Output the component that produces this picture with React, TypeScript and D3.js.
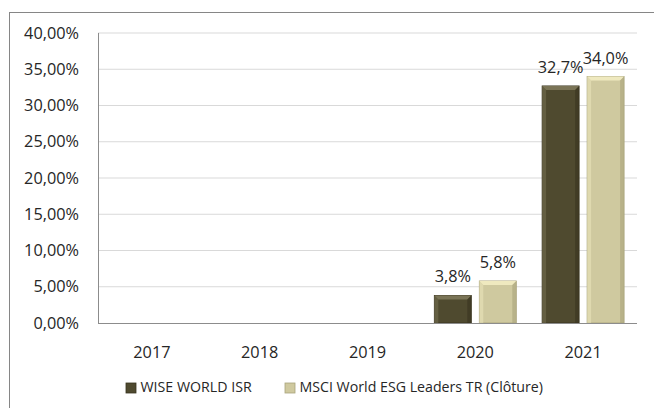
import React from "react";
import * as d3 from "d3";

const years = ["2017", "2018", "2019", "2020", "2021"];
const seriesNames = ["WISE WORLD ISR", "MSCI World ESG Leaders TR (Clôture)"];
const wiseValues: (number | null)[] = [null, null, null, 3.8, 32.7];
const msciValues: (number | null)[] = [null, null, null, 5.8, 34.0];
const yTicks = [0, 5, 10, 15, 20, 25, 30, 35, 40];

const colors = [
  { main: "#4f4a2f", light: "#7a7456", dark: "#38341f" },
  { main: "#cfc99f", light: "#efe9bf", dark: "#a9a47c" },
];

const W = 654;
const H = 408;
const fmtTick = (v: number) => v.toFixed(2).replace(".", ",") + "%";
const fmtLabel = (v: number) => v.toFixed(1).replace(".", ",") + "%";
const font = "'Open Sans', 'Noto Sans', sans-serif";
const fs = 16.3;

export default function App() {
  const x = d3.scaleBand<string>().domain(years).range([98, 637]).paddingInner(0).paddingOuter(0);
  const inner = d3.scaleBand<number>().domain([0, 1]).range([0, x.bandwidth()]).paddingInner(0.178).paddingOuter(0.287);
  const y = d3.scaleLinear().domain([0, 40]).range([323, 33]);
  const series = [wiseValues, msciValues];
  const bw = inner.bandwidth();
  const b = 4;

  return (
    <svg width={W} height={H} style={{ position: "absolute", left: 0, top: 0 }}>
      <rect x={0} y={0} width={W} height={H} fill="#fff" />
      <rect x={9.5} y={12.5} width={W + 10} height={H + 10} fill="none" stroke="#868686" strokeWidth={1} />
      {yTicks.map((t) => (
        <g key={t}>
          {t > 0 && <line x1={98} x2={637} y1={y(t)} y2={y(t)} stroke="#d9d9d9" strokeWidth={1} />}
          <text x={79} y={y(t)} dy="0.35em" textAnchor="end" fontFamily={font} fontSize={fs} fill="#262626">
            {fmtTick(t)}
          </text>
        </g>
      ))}
      {series.map((vals, si) =>
        vals.map((v, i) => {
          if (v == null) return null;
          const x0 = (x(years[i]) as number) + (inner(si) as number);
          const y0 = y(v);
          const y1 = y(0);
          const c = colors[si];
          return (
            <g key={`${si}-${i}`}>
              <rect x={x0} y={y0} width={bw} height={y1 - y0} fill={c.main} stroke={c.dark} strokeWidth={0.8} />
              <polygon points={`${x0},${y0} ${x0 + bw},${y0} ${x0 + bw - b},${y0 + b} ${x0 + b},${y0 + b}`} fill={c.light} />
              <polygon points={`${x0},${y0} ${x0 + b},${y0 + b} ${x0 + b},${y1} ${x0},${y1}`} fill={c.light} opacity={0.5} />
              <polygon points={`${x0 + bw},${y0} ${x0 + bw - b},${y0 + b} ${x0 + bw - b},${y1} ${x0 + bw},${y1}`} fill={c.dark} opacity={0.6} />
              <text x={x0 + bw / 2} y={y0 - 13} textAnchor="middle" fontFamily={font} fontSize={fs} fill="#262626">
                {fmtLabel(v)}
              </text>
            </g>
          );
        })
      )}
      <line x1={98.5} x2={98.5} y1={33} y2={323} stroke="#8c8c8c" strokeWidth={1} />
      <line x1={98} x2={637} y1={323.5} y2={323.5} stroke="#8c8c8c" strokeWidth={1} />
      {years.map((yr) => (
        <text key={yr} x={(x(yr) as number) + x.bandwidth() / 2} y={352} dy="0.35em" textAnchor="middle" fontFamily={font} fontSize={fs} fill="#262626">
          {yr}
        </text>
      ))}
      {seriesNames.map((name, i) => {
        const lx = i === 0 ? 126 : 285;
        return (
          <g key={name}>
            <rect x={lx} y={383} width={10} height={10} fill={colors[i].main} stroke={colors[i].dark} strokeWidth={0.8} />
            <text x={lx + 14.5} y={387} dy="0.35em" fontFamily={font} fontSize={14.2} fill="#262626">
              {name}
            </text>
          </g>
        );
      })}
    </svg>
  );
}
